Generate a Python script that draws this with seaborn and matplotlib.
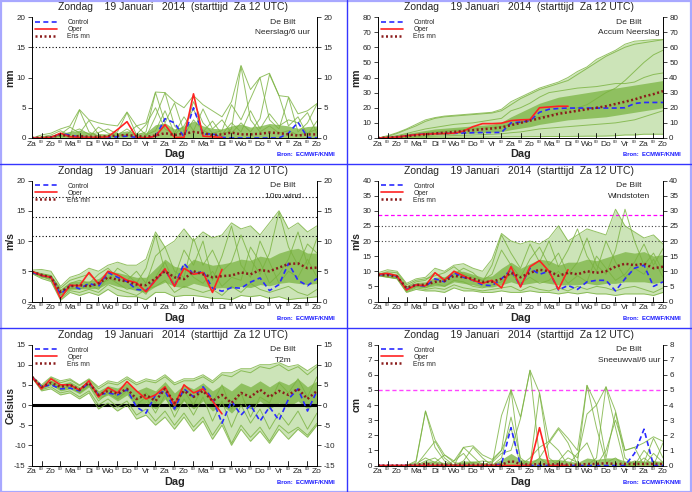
import numpy as np
import pandas as pd
import matplotlib
matplotlib.use("Agg")
import matplotlib.pyplot as plt
import seaborn as sns
from matplotlib.lines import Line2D

# ---------- data (12-hourly, Za 12 UTC + 0..360 h) ----------
uren = list(range(0, 361, 12))
dagen = ['Za', 'Zo', 'Ma', 'Di', 'Wo', 'Do', 'Vr', 'Za', 'Zo', 'Ma', 'Di', 'Wo', 'Do', 'Vr', 'Za', 'Zo']

# neerslag / 6 uur (mm)
nsl_oper = [0, 0, 0.1, 0.8, 0.2, 0.1, 0.1, 0.1, 0.2, 1.4, 2.7, 0.1, 0, 0.3, 2.2, 0.1, 0.1, 7.3, 0.3, 0.2, 0.1]
nsl_ctrl = [0, 0, 0.1, 0.7, 0.5, 0.1, 0.1, 0, 0.1, 0.2, 0.3, 0.1, 0, 0.2, 3.2, 2.5, 0.2, 5.0, 0.6, 0.7, 0.1,
            0, 0, 0, 0, 0, 0, 0.8, 2.6, 0.1, 0]
nsl_ens = [0, 0.1, 0.1, 0.5, 0.3, 0.3, 0.2, 0.2, 0.3, 0.4, 0.5, 0.3, 0.2, 0.4, 0.8, 0.5, 0.7, 1.0, 0.8, 0.5, 0.6,
           0.9, 0.6, 0.6, 0.7, 0.9, 0.8, 0.6, 0.4, 0.6, 0.6]
nsl_lo = [0] * 31
nsl_hi = [0, 0.5, 0.8, 1.5, 2.0, 4.7, 3.0, 2.5, 2.2, 2.0, 4.3, 2.0, 2.5, 7.6, 7.5, 6.0, 5.0, 7.0, 5.5, 4.5, 3.5,
          6.0, 12.0, 8.0, 10.0, 10.7, 7.0, 6.8, 4.0, 4.5, 5.7]
nsl_q25 = [0] * 31
nsl_q75 = [0, 0.2, 0.4, 0.9, 1.0, 1.3, 0.9, 0.6, 0.7, 0.9, 1.2, 0.8, 0.9, 2.2, 2.5, 1.5, 2.0, 2.8, 2.0, 1.6, 1.5,
           2.0, 2.3, 1.8, 2.0, 2.4, 2.2, 2.0, 1.6, 1.9, 2.0]
nsl_leden = [
    [0, 0.2, 0.5, 1.2, 0.4, 4.6, 1.0, 0.3, 0.2, 0.5, 1.5, 0.4, 0.2, 3.5, 7.5, 2.0, 0.5, 3.0, 1.2, 0.6, 0.3, 1.5, 11.8, 3.0, 1.0, 2.0, 0.8, 1.2, 0.5, 0.8, 1.5],
    [0, 0.1, 0.3, 0.6, 1.8, 0.8, 2.9, 0.6, 0.4, 1.0, 4.2, 0.5, 1.0, 7.5, 2.5, 5.8, 1.0, 6.0, 2.5, 0.8, 1.2, 5.5, 3.0, 6.5, 10.0, 3.0, 1.5, 6.7, 1.0, 2.5, 5.6],
    [0, 0, 0.1, 0.3, 0.2, 0.5, 0.2, 1.8, 0.8, 0.3, 0.6, 2.0, 0.5, 1.2, 4.5, 0.8, 3.5, 1.2, 4.8, 1.5, 3.0, 0.8, 2.5, 1.0, 3.2, 10.5, 7.0, 2.0, 3.5, 0.5, 2.8],
    [0, 0.1, 0.2, 0.4, 0.9, 1.5, 0.6, 0.9, 1.5, 0.6, 0.4, 0.6, 2.2, 5.0, 1.5, 0.6, 2.0, 4.8, 1.0, 2.8, 0.6, 2.5, 1.0, 4.5, 1.5, 4.0, 2.0, 3.0, 2.5, 4.2, 0.8],
]

# accumulatie neerslag (mm)
acc_oper = [0, 0.2, 0.5, 1.5, 2.2, 2.6, 2.8, 3.0, 3.2, 4.6, 7.5, 9.5, 9.5, 9.8, 11.5, 12.0, 12.2, 20.0, 20.5, 21.0, 21.0]
acc_ctrl = [0, 0.2, 0.5, 1.5, 2.2, 2.7, 2.9, 3.0, 3.1, 3.3, 3.5, 3.6, 3.6, 3.7, 10.0, 10.5, 11.5, 17.0, 19.0, 19.5,
            19.8, 19.8, 19.8, 19.8, 19.8, 19.8, 20.0, 22.8, 23.5, 23.5, 23.5]
acc_ens = [0, 0.3, 0.6, 1.2, 1.8, 2.4, 3.0, 3.5, 4.0, 4.6, 5.2, 5.8, 6.3, 7.0, 8.5, 10.0, 11.5, 13.0, 14.5, 16.0,
           17.0, 18.0, 19.0, 20.0, 21.0, 22.5, 24.0, 25.5, 27.5, 29.0, 31.0]
acc_lo = [0, 0, 0, 0.2, 0.3, 0.4, 0.5, 0.5, 0.5, 0.6, 0.6, 0.6, 0.7, 0.7, 0.8, 0.8, 0.9, 0.9, 1.0, 1.0, 1.0, 1.1,
          1.2, 1.2, 1.3, 1.5, 2.0, 2.0, 2.5, 2.5, 2.5]
acc_hi = [0, 1.5, 3.5, 6.0, 9.0, 12.0, 13.5, 14.5, 15.0, 15.5, 16.0, 16.5, 17.0, 19.0, 24.0, 27.0, 30.0, 33.0, 35.0,
          37.0, 40.0, 44.0, 47.0, 52.0, 55.0, 58.0, 62.0, 64.0, 64.5, 65.0, 65.0]
acc_q25 = [0, 0.1, 0.3, 0.6, 1, 1.5, 2, 2.3, 2.6, 2.9, 3.2, 3.5, 3.8, 4.2, 5.5, 6.5, 7.5, 9, 10, 11, 12, 12.5, 13,
           13.5, 14, 15, 16, 17, 18, 19, 20]
acc_q75 = [0, 0.8, 2, 3, 4, 5, 6, 6.5, 7, 7.5, 8, 8.5, 9, 10.5, 14, 17, 20, 23, 25, 27, 28, 29, 30, 31, 32, 33, 34,
           35, 36, 37, 38]
acc_leden = [
    [0, 1, 3, 5.5, 8, 11, 13, 14, 14.5, 15, 15.5, 16, 16.5, 18, 22, 26, 29, 32, 34, 36, 38, 42, 46, 50, 54, 57, 60, 62, 63, 64, 65],
    [0, 0.5, 1.5, 3, 4.5, 6, 7, 8, 9, 9.5, 10, 11, 12, 13, 18, 20, 23, 27, 30, 31, 32, 33, 33.5, 34, 35, 36, 36, 37, 40, 42, 43],
    [0, 0.2, 0.5, 1.5, 2.5, 3.5, 4, 4.5, 5, 5.5, 6, 6.5, 7, 7.5, 9, 10, 12, 14, 15, 17, 19, 20, 22, 26, 30, 33, 38, 44, 50, 55, 58],
    [0, 0.1, 0.2, 0.5, 0.8, 1, 1.2, 1.4, 1.6, 1.8, 2, 2.2, 2.5, 2.8, 3.5, 4, 5, 6, 6.5, 7, 7.5, 8, 8.5, 9, 9.5, 10, 11, 12, 14, 16, 18],
]

# 10m wind (m/s)
wnd_oper = [5.0, 4.3, 4.0, 0.5, 2.7, 2.6, 4.8, 2.9, 5.0, 4.4, 3.5, 3.1, 1.6, 3.5, 5.4, 2.5, 5.5, 4.5, 4.8, 1.5, 5.3]
wnd_ctrl = [4.8, 4.3, 4.0, 1.2, 2.7, 2.1, 3.0, 2.5, 4.8, 4.0, 3.3, 2.0, 1.8, 3.5, 5.3, 2.5, 6.3, 4.5, 5.0, 2.2, 1.7,
            2.3, 2.2, 3.2, 3.9, 1.8, 2.8, 6.3, 3.5, 2.6, 3.8]
wnd_ens = [4.9, 4.4, 4.0, 1.6, 2.5, 2.7, 2.5, 3.0, 4.0, 3.6, 3.3, 2.8, 2.7, 3.8, 5.0, 4.0, 3.7, 5.0, 4.5, 4.0, 4.2,
           4.3, 4.8, 4.5, 5.2, 5.0, 5.6, 6.2, 6.3, 5.5, 5.6]
wnd_lo = [4.6, 3.8, 3.3, 0.2, 1.5, 1.0, 1.5, 1.0, 2.0, 1.0, 0.8, 0.8, 0.3, 1.5, 1.5, 0.8, 1.0, 1.0, 0.8, 0.5, 0.5,
          0.3, 1.0, 0.8, 1.0, 0.5, 0.8, 0.3, 0.5, 0.6, 0.8]
wnd_hi = [5.2, 5.3, 5.0, 2.5, 4.0, 4.5, 5.5, 5.0, 6.0, 6.5, 6.0, 6.0, 7.0, 11.5, 9.0, 10.0, 12.0, 10.0, 11.5, 10.5,
          11.0, 13.0, 12.0, 12.5, 11.0, 13.0, 15.0, 12.0, 13.0, 11.5, 12.5]
wnd_q25 = [4.7, 4.1, 3.7, 1.0, 2.0, 2.1, 2.1, 2.2, 3.0, 2.5, 2.2, 1.8, 1.5, 2.5, 3.2, 2.5, 2.3, 3.0, 2.6, 2.2, 2.3,
           2.2, 2.5, 2.3, 2.8, 2.6, 3.0, 3.2, 3.0, 2.8, 3.0]
wnd_q75 = [5.0, 4.7, 4.4, 2.0, 3.2, 3.4, 3.4, 3.8, 5.0, 4.8, 4.4, 4.0, 4.0, 5.5, 7.0, 5.8, 5.5, 7.0, 6.5, 6.0, 6.2,
           6.5, 7.0, 6.8, 7.5, 7.2, 8.0, 8.5, 8.8, 8.0, 8.0]
wnd_leden = [
    [5.0, 4.6, 4.3, 1.8, 3.0, 3.5, 3.0, 4.5, 5.5, 4.0, 3.5, 5.0, 3.0, 7.5, 9.0, 5.0, 4.0, 10.5, 6.0, 8.5, 5.0, 6.5, 11.0, 7.0, 4.5, 8.0, 14.8, 9.0, 6.0, 9.5, 8.0],
    [4.8, 4.0, 3.8, 1.0, 2.2, 2.0, 2.8, 2.0, 4.0, 3.0, 2.0, 2.5, 1.2, 4.0, 6.5, 3.0, 6.0, 4.0, 3.0, 5.0, 2.5, 4.0, 3.5, 9.0, 6.5, 3.0, 4.5, 7.0, 11.5, 6.0, 10.5],
    [4.9, 4.5, 4.2, 2.2, 3.5, 4.0, 4.5, 3.0, 3.5, 5.5, 4.5, 3.0, 5.5, 11.0, 5.0, 4.0, 8.5, 6.0, 10.0, 3.5, 7.5, 12.5, 6.0, 4.0, 10.0, 6.5, 3.0, 5.0, 4.0, 7.0, 4.0],
    [4.7, 4.2, 3.5, 0.5, 1.8, 1.5, 2.0, 1.5, 2.8, 2.0, 1.5, 1.0, 2.0, 2.5, 3.5, 1.5, 2.5, 2.0, 1.5, 2.0, 1.0, 2.5, 1.5, 3.0, 2.0, 1.5, 2.0, 2.5, 1.5, 1.0, 2.0],
]

# windstoten (m/s)
gst_oper = [9.0, 9.3, 8.5, 3.8, 5.5, 5.2, 9.5, 7.0, 10.0, 8.5, 7.0, 6.0, 7.0, 4.5, 11.5, 4.8, 11.5, 13.5, 10.0, 4.0, 10.5]
gst_ctrl = [8.8, 9.0, 8.3, 4.0, 5.5, 5.0, 7.5, 6.5, 9.5, 8.0, 7.0, 5.5, 5.2, 7.5, 10.5, 5.0, 11.0, 9.0, 10.0, 3.8,
            5.3, 4.0, 6.5, 7.0, 7.0, 3.5, 7.5, 11.0, 12.0, 5.0, 6.5]
gst_ens = [8.8, 8.7, 8.2, 4.5, 5.5, 5.5, 6.5, 6.8, 8.5, 8.0, 7.5, 6.5, 6.5, 7.5, 9.5, 8.0, 9.5, 10.5, 10.0, 8.5, 9.5,
           9.0, 10.0, 9.5, 10.0, 11.5, 12.5, 12.0, 12.5, 11.0, 11.5]
gst_lo = [8.5, 8.0, 7.5, 3.0, 4.0, 3.5, 3.5, 3.0, 4.5, 3.5, 3.5, 3.0, 3.0, 3.5, 3.0, 3.0, 3.5, 3.0, 3.0, 2.5, 3.0,
          2.5, 3.0, 2.5, 2.5, 2.0, 2.5, 2.5, 2.5, 2.0, 3.0]
gst_hi = [9.5, 10.5, 10.0, 6.0, 7.5, 8.0, 11.0, 10.0, 12.0, 12.5, 11.0, 10.0, 14.0, 22.5, 20.0, 19.0, 20.0, 19.0,
          21.0, 25.0, 20.0, 22.0, 24.0, 23.0, 22.0, 30.5, 25.0, 23.0, 21.0, 22.0, 19.0]
gst_q25 = [8.7, 8.4, 7.9, 3.8, 4.8, 4.6, 5.2, 5.0, 6.5, 6.0, 5.5, 4.8, 4.8, 5.5, 6.5, 5.5, 6.0, 6.5, 6.0, 5.5, 5.5,
           5.5, 6.0, 5.5, 6.0, 6.0, 6.5, 6.5, 6.5, 6.0, 6.5]
gst_q75 = [9.1, 9.2, 8.8, 5.0, 6.3, 6.5, 8.0, 8.2, 10.0, 10.0, 9.0, 8.0, 8.5, 11.0, 13.0, 11.0, 12.5, 14.0, 13.5,
           12.0, 13.0, 13.0, 14.0, 13.5, 14.5, 15.5, 16.5, 16.0, 16.5, 15.0, 15.5]
gst_leden = [
    [9.0, 9.8, 9.5, 5.5, 7.0, 7.5, 8.5, 9.5, 11.5, 9.0, 8.0, 7.0, 9.0, 17.0, 12.0, 8.0, 14.0, 18.0, 12.0, 16.0, 9.0, 13.0, 21.0, 12.0, 9.0, 17.0, 30.5, 20.0, 12.0, 16.0, 10.0],
    [8.7, 8.2, 7.8, 3.5, 5.0, 4.5, 6.0, 5.0, 7.0, 6.5, 5.0, 4.5, 5.5, 6.5, 9.0, 6.0, 8.0, 6.0, 7.0, 10.0, 6.0, 8.5, 6.5, 15.0, 11.0, 7.0, 9.0, 13.0, 19.0, 12.0, 17.5],
    [8.9, 9.2, 8.8, 4.8, 6.5, 7.0, 9.5, 7.5, 9.0, 11.0, 9.5, 6.5, 12.0, 22.0, 16.0, 11.0, 19.0, 13.0, 20.0, 11.5, 17.0, 24.0, 15.0, 10.0, 20.0, 13.0, 8.0, 11.0, 9.0, 14.0, 8.0],
    [8.6, 8.1, 7.6, 3.2, 4.5, 4.0, 4.5, 4.0, 5.5, 4.5, 4.0, 3.5, 4.0, 4.5, 5.0, 3.5, 5.0, 4.0, 3.5, 4.5, 3.5, 5.0, 4.0, 5.0, 4.5, 3.5, 4.5, 5.0, 4.0, 3.0, 4.5],
]

# T2m (Celsius)
tmp_oper = [7.0, 4.0, 6.5, 5.0, 5.0, 3.7, 6.0, 2.0, 4.3, 3.0, 5.8, 3.5, 1.5, 2.5, 4.5, 0.0, 5.0, 3.0, 4.0, 1.0, -2.2]
tmp_ctrl = [7.0, 4.5, 5.0, 4.0, 4.2, 3.5, 5.5, 2.5, 3.0, 2.5, 3.8, -0.5, -2.0, 2.5, 3.5, -1.0, 4.0, 2.0, 4.5, 1.5,
            -4.5, 1.0, -2.5, 0.0, -4.0, -0.5, -3.8, 1.5, 4.0, -1.5, 3.5]
tmp_ens = [7.0, 4.5, 5.5, 4.5, 5.0, 3.8, 5.5, 2.5, 3.5, 2.8, 4.0, 1.5, 2.5, 1.0, 4.0, 0.5, 3.5, 2.0, 3.5, 1.0, 2.5,
           0.5, 3.0, 2.0, 3.8, 2.0, 3.5, 2.5, 4.0, 1.5, 3.5]
tmp_lo = [6.8, 3.5, 4.0, 2.5, 3.0, 1.5, 3.0, -1.0, 0.5, -1.5, 0.0, -3.5, -2.5, -5.0, -3.0, -6.0, -3.0, -6.5, -4.0,
          -8.5, -5.0, -10.0, -6.0, -9.0, -6.5, -9.5, -6.0, -8.5, -6.0, -8.0, -5.0]
tmp_hi = [7.2, 5.0, 7.0, 6.0, 6.5, 5.0, 6.5, 4.5, 6.0, 5.5, 7.0, 5.5, 6.5, 6.0, 7.5, 5.5, 6.5, 6.5, 7.5, 6.0, 8.0,
          8.0, 9.0, 9.0, 10.0, 10.0, 10.5, 9.5, 10.0, 8.5, 10.0]
tmp_q25 = [6.9, 4.0, 5.0, 3.5, 4.0, 2.8, 4.5, 1.5, 2.5, 1.0, 2.5, -0.5, 0.5, -1.0, 1.5, -1.5, 1.0, -1.0, 1.0, -1.5,
           0.0, -2.0, 0.5, -1.0, 1.0, -1.0, 0.5, -0.5, 1.0, -1.0, 0.5]
tmp_q75 = [7.1, 4.8, 6.2, 5.2, 5.8, 4.5, 6.0, 3.5, 4.8, 4.2, 5.5, 3.5, 4.5, 3.5, 5.8, 3.0, 5.0, 4.0, 5.5, 3.5, 5.0,
           3.5, 5.5, 4.5, 6.0, 4.5, 6.0, 5.0, 6.5, 4.5, 6.0]
tmp_leden = [
    [7.0, 4.6, 6.8, 5.5, 6.2, 4.8, 6.3, 4.0, 5.5, 5.0, 6.5, 5.0, 6.0, 5.5, 7.0, 5.0, 6.0, 6.0, 7.0, 5.5, 7.5, 7.0, 8.5, 8.0, 9.5, 9.0, 10.0, 8.5, 9.5, 7.5, 9.5],
    [6.9, 3.8, 4.5, 3.0, 3.5, 2.0, 3.5, 0.0, 1.5, -0.5, 1.0, -2.5, -1.0, -4.0, -1.5, -5.0, -2.0, -5.5, -3.0, -7.5, -4.0, -9.5, -5.0, -8.0, -5.5, -9.0, -5.0, -7.0, -5.5, -7.5, -4.5],
    [7.0, 4.3, 5.8, 4.5, 5.2, 3.5, 5.0, 2.5, 3.8, 2.0, 4.0, 1.0, 3.0, 0.5, 4.5, -0.5, 3.5, 0.0, 4.5, 0.5, 5.0, -1.0, 3.0, -3.0, 2.0, 0.5, 5.5, 3.0, 6.5, 2.0, 7.0],
    [7.0, 4.2, 5.2, 4.0, 4.5, 3.0, 4.8, 1.0, 3.0, 1.5, 3.5, 0.0, 2.0, -2.0, 2.5, -3.0, 1.5, -2.5, 2.0, -4.0, 1.0, -5.5, 0.0, -4.5, -1.0, -6.0, -2.0, -5.0, -1.5, -6.0, -2.0],
]

# sneeuwval / 6 uur (cm)
snw_oper = [0, 0, 0, 0, 0, 0, 0, 0, 0, 0, 0, 0, 0, 0, 0, 0, 0, 2.5, 0, 0, 0]
snw_ctrl = [0, 0, 0, 0, 0, 0, 0, 0, 0, 0, 0, 0, 0, 0.1, 2.5, 0, 0, 0, 0, 0, 0, 0, 0, 0, 0, 0, 0, 0.8, 2.4, 0, 0]
snw_ens = [0, 0, 0, 0, 0.05, 0.1, 0.05, 0.05, 0.05, 0.05, 0.05, 0.05, 0.05, 0.05, 0.3, 0.1, 0.05, 0.1, 0.05, 0.1,
           0.05, 0.05, 0.1, 0.1, 0.15, 0.1, 0.1, 0.1, 0.1, 0.1, 0.1]
snw_lo = [0] * 31
snw_hi = [0, 0, 0, 0, 0.3, 3.6, 1.7, 0.7, 0.3, 1.2, 1.3, 0.7, 0.4, 1.0, 5.0, 3.2, 6.3, 4.8, 1.6, 2.5, 1.8, 1.0, 5.3,
          4.0, 5.2, 3.6, 1.0, 1.2, 1.5, 1.9, 1.6]
snw_q25 = [0] * 31
snw_q75 = [0, 0, 0, 0, 0.05, 0.3, 0.3, 0.2, 0.1, 0.3, 0.3, 0.2, 0.1, 0.4, 0.8, 0.4, 0.3, 0.5, 0.4, 0.4, 0.3, 0.2,
           0.5, 0.4, 0.5, 0.5, 0.3, 0.3, 0.3, 0.3, 0.3]
snw_leden = [
    [0, 0, 0, 0, 0.2, 3.6, 1.2, 0.3, 0, 0.3, 1.2, 0.5, 0, 0.5, 3.2, 0.5, 0, 4.8, 0.5, 0, 0.5, 0.2, 5.3, 2.5, 0.2, 0.5, 0, 0.3, 0.2, 1.8, 0.5],
    [0, 0, 0, 0, 0, 0.8, 1.6, 0.5, 0, 1.2, 0.6, 0, 0, 3.3, 5.0, 0.2, 0, 0.5, 1.5, 2.4, 1.5, 0, 0, 0.5, 5.2, 2.5, 0, 0, 0.5, 0, 1.5],
    [0, 0, 0, 0, 0.1, 0.5, 0.2, 0.7, 0.2, 0.1, 0.2, 0.3, 0.2, 0.8, 1.0, 3.1, 6.3, 0.5, 0, 0.3, 1.0, 0.5, 3.4, 4.0, 0.5, 3.5, 0.5, 0, 1.0, 0.3, 0],
    [0, 0, 0, 0, 0, 0.3, 0.5, 0, 0.3, 0.8, 0, 0, 0.3, 1.0, 2.5, 0, 0.5, 1.2, 1.6, 1.0, 0, 0.8, 1.5, 0, 1.0, 3.0, 1.0, 1.2, 0, 0.8, 0.2],
]

TITEL = 'Zondag    19 Januari   2014  (starttijd  Za 12 UTC)'
W, H = 692, 492
GROEN = '#7ab23f'

# ---------- tekenen ----------
sns.set_style('white')
plt.rcParams['font.family'] = ['Liberation Sans', 'DejaVu Sans']


def panel(fig, col, row, naam, eenheid, ylim, ystap, oper, ctrl, ens, lo, hi, q25, q75, leden,
          lijnen=(), vul=True):
    x0 = [0, 346][col]
    y0 = [0, 163.5, 327.5][row]
    ax = fig.add_axes([(x0 + 32) / W, 1 - (y0 + 138) / H, 285 / W, 121 / H])

    t = np.array(uren)
    if vul:
        ax.fill_between(t, lo, hi, color='#bcdca0', alpha=0.75, lw=0)
    ax.fill_between(t, q25, q75, color='#80b84a', alpha=0.8, lw=0)

    df = pd.DataFrame([(i, u, v) for i, rij in enumerate(leden + [lo, hi]) for u, v in zip(uren, rij)],
                      columns=['lid', 'uur', 'waarde'])
    sns.lineplot(data=df, x='uur', y='waarde', units='lid', estimator=None, color=GROEN,
                 lw=0.7, alpha=0.8, ax=ax, legend=False)

    for y, kl, ls, lw in lijnen:
        ax.axhline(y, color=kl, ls=ls, lw=lw, zorder=1.5)

    sns.lineplot(x=uren, y=ctrl, color='#2a2aff', lw=1.2, ls=(0, (3, 2)), ax=ax, label='Control')
    sns.lineplot(x=uren[:len(oper)], y=oper, color='#ff2222', lw=1.2, ax=ax, label='Oper')
    sns.lineplot(x=uren, y=ens, color='#8b1c1c', lw=1.8, ls=(0, (0.8, 1.0)), ax=ax, label='Ens mn')
    h, lab = ax.get_legend_handles_labels()
    ax.legend(h, lab, loc='upper left', bbox_to_anchor=(-0.005, 1.02), frameon=False, fontsize=4.8,
              handlelength=3.2, handletextpad=1.6, labelspacing=0.0, borderpad=0.2)

    ax.set_xlim(0, 360)
    ax.set_ylim(*ylim)
    ax.set_xticks(range(0, 361, 24))
    ax.set_xticklabels(dagen)
    ax.set_xticks(range(0, 361, 6), minor=True)
    ax.tick_params(axis='x', which='major', direction='in', length=3, width=0.6, labelsize=6, pad=2)
    ax.tick_params(axis='x', which='minor', direction='in', length=1.8, width=0.5)
    for u in range(12, 360, 24):
        ax.text(u, -0.015, '00', transform=ax.get_xaxis_transform(), ha='center', va='top', fontsize=3.2)
        ax.plot([u, u], [0, 0.04], transform=ax.get_xaxis_transform(), color='k', lw=0.6, clip_on=False)
    ax.set_yticks(np.arange(ylim[0], ylim[1] + 0.01, ystap))
    ax.yaxis.set_major_formatter(matplotlib.ticker.FormatStrFormatter('%g'))
    ax.tick_params(axis='y', which='major', direction='out', length=3, width=0.6, labelsize=5.8, pad=1.5,
                   left=True, right=True, labelleft=True, labelright=True)
    for s in ['left', 'right', 'bottom']:
        ax.spines[s].set_visible(True)
        ax.spines[s].set_linewidth(0.7)
        ax.spines[s].set_color('black')
    ax.spines['top'].set_visible(False)
    ax.set_xlabel('Dag', fontsize=7.8, fontweight='bold')
    ax.set_ylabel(eenheid, fontsize=7.5, fontweight='bold')
    ax.yaxis.set_label_coords(-0.058, 0.5)
    ax.xaxis.set_label_coords(0.5, -0.095)

    ax.text(0.88, 0.955, 'De Bilt', transform=ax.transAxes, ha='center', va='center', fontsize=6.1)
    ax.text(0.88, 0.87, naam, transform=ax.transAxes, ha='center', va='center', fontsize=6.0)
    fig.text((x0 + 173) / W, 1 - (y0 + 7.5) / H, TITEL, ha='center', va='center', fontsize=7.5)
    fig.text((x0 + 306) / W, 1 - (y0 + 155) / H, 'Bron:  ECMWF/KNMI', ha='center', va='center',
             fontsize=4.2, fontweight='bold', color='#1a1aff')
    return ax


fig = plt.figure(figsize=(W / 100, H / 100), dpi=100)
stip = (0, (1, 2))
panel(fig, 0, 0, 'Neerslag/6 uur', 'mm', (0, 20), 5, nsl_oper, nsl_ctrl, nsl_ens, nsl_lo, nsl_hi,
      nsl_q25, nsl_q75, nsl_leden, lijnen=[(15, 'k', stip, 0.8)], vul=False)
panel(fig, 1, 0, 'Accum Neerslag', 'mm', (0, 80), 10, acc_oper, acc_ctrl, acc_ens, acc_lo, acc_hi,
      acc_q25, acc_q75, acc_leden)
panel(fig, 0, 1, '10m wind', 'm/s', (0, 20), 5, wnd_oper, wnd_ctrl, wnd_ens, wnd_lo, wnd_hi,
      wnd_q25, wnd_q75, wnd_leden,
      lijnen=[(10.8, 'k', stip, 0.8), (13.9, 'k', stip, 0.8), (17.2, 'k', stip, 0.8)])
panel(fig, 1, 1, 'Windstoten', 'm/s', (0, 40), 5, gst_oper, gst_ctrl, gst_ens, gst_lo, gst_hi,
      gst_q25, gst_q75, gst_leden,
      lijnen=[(20, '#444444', stip, 0.8), (25, '#444444', stip, 0.8), (28.5, '#ff00ff', (0, (3, 2)), 0.9)])
panel(fig, 0, 2, 'T2m', 'Celsius', (-15, 15), 5, tmp_oper, tmp_ctrl, tmp_ens, tmp_lo, tmp_hi,
      tmp_q25, tmp_q75, tmp_leden, lijnen=[(0, 'k', '-', 2.2)])
panel(fig, 1, 2, 'Sneeuwval/6 uur', 'cm', (0, 8), 1, snw_oper, snw_ctrl, snw_ens, snw_lo, snw_hi,
      snw_q25, snw_q75, snw_leden, lijnen=[(5, '#ff44ff', (0, (3, 2)), 1.0)], vul=False)

# paneelranden
blauw = '#3535ff'
fig.add_artist(Line2D([347 / W, 347 / W], [0, 1], color=blauw, lw=1.0))
for py in [163.5, 327.5]:
    fig.add_artist(Line2D([0, 1], [1 - py / H, 1 - py / H], color=blauw, lw=1.0))
fig.add_artist(plt.Rectangle((0.5 / W, 0.5 / H), 1 - 1.5 / W, 1 - 1.5 / H, fill=False,
                             edgecolor='#a8a8ff', lw=1.6, transform=fig.transFigure))

fig.savefig('out.png', dpi=100)
